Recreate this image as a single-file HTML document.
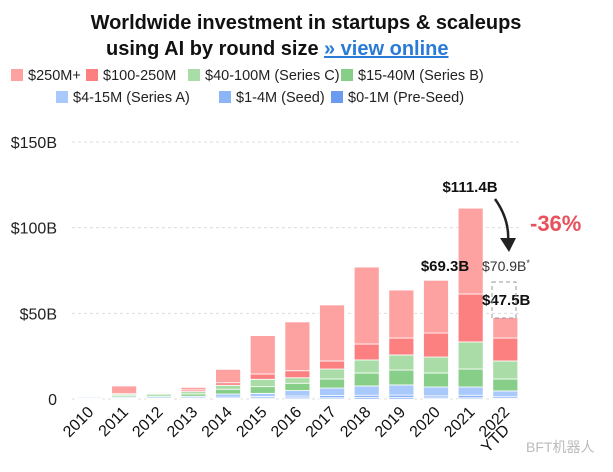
<!DOCTYPE html>
<html><head><meta charset="utf-8"><style>
body{margin:0;background:#fff;font-family:"Liberation Sans","Noto Sans CJK SC",sans-serif;}
#c{position:relative;width:613px;height:472px;overflow:hidden;}
</style></head><body>
<div id="c">
<svg id="s" width="613" height="472">
<text x="306" y="29" text-anchor="middle" font-size="20" font-weight="bold" fill="#111">Worldwide investment in startups &amp; scaleups</text>
<text x="106" y="55" font-size="20" font-weight="bold" fill="#111">using AI by round size</text>
<text x="324" y="55" font-size="20" font-weight="bold" fill="#2a7bd6" text-decoration="underline">» view online</text>
<g id="legend"></g>
<g id="grid"></g><g id="bars"></g><g id="xl"></g>
<text x="470" y="192" text-anchor="middle" font-size="15" font-weight="bold" fill="#111">$111.4B</text>
<text x="445" y="271" text-anchor="middle" font-size="15" font-weight="bold" fill="#111">$69.3B</text>
<text x="482" y="271" font-size="14" fill="#333">$70.9B<tspan font-size="9" dy="-5">*</tspan></text>
<text x="482" y="305" font-size="15" font-weight="bold" fill="#111">$47.5B</text>
<rect x="492" y="282" width="24" height="36" fill="none" stroke="#999" stroke-dasharray="4,3"/>
<text x="530" y="231" font-size="22" font-weight="bold" fill="#e8505b">-36%</text>
<path d="M495,199 Q510,220 508,243" fill="none" stroke="#222" stroke-width="2.5"/>
<polygon points="500,238 516,238 509,252" fill="#222"/>
<text x="526" y="452" font-size="14" fill="#bbb">BFT机器人</text>
</svg></div>
<script>
const years=["2010","2011","2012","2013","2014","2015","2016","2017","2018","2019","2020","2021","2022"];
const preSeed=[0.2,0.2,0.2,0.2,0.4,0.6,0.7,0.7,0.8,0.8,0.6,0.7,0.3];
const seed=[0.3,0.3,0.4,0.4,0.7,0.8,1.0,1.3,1.4,1.5,1.2,1.5,1.0];
const seriesA=[0.6,0.6,0.8,1.0,1.8,1.9,3.2,4.4,5.4,5.9,5.2,4.8,3.4];
const seriesB=[0.4,0.8,1.0,1.4,2.8,3.9,4.3,5.3,7.6,8.7,8.2,10.5,7.0];
const seriesC=[0.3,0.9,0.8,1.3,2.3,4.3,3.2,5.8,7.6,8.8,9.3,15.8,10.5];
const r100=[0.1,0.3,0.2,1.0,1.5,3.1,4.1,4.7,9.3,9.9,14.0,28.0,13.4];
const r250=[0.3,4.5,0.5,1.5,7.8,22.4,28.5,32.7,44.9,28.0,30.8,50.1,11.9];
const yTicks=[0,50,100,150];
const yTickLabels=["0","$50B","$100B","$150B"];
const legendLabels=["$250M+","$100-250M","$40-100M (Series C)","$15-40M (Series B)","$4-15M (Series A)","$1-4M (Seed)","$0-1M (Pre-Seed)"];
const colors=["#6b9bf0","#8db4f7","#a9c8fb","#87cf89","#aadca7","#fd8081","#fda1a1"];
const stacks=[preSeed,seed,seriesA,seriesB,seriesC,r100,r250];
const NS="http://www.w3.org/2000/svg";
const y=v=>399-v*1.7133;
const x=i=>77+i*34.65;
const bw=25;
function mk(t,a,p){const e=document.createElementNS(NS,t);for(const k in a)e.setAttribute(k,a[k]);p.appendChild(e);return e;}
const grid=document.getElementById('grid');
yTicks.forEach((t,i)=>{
 const l=mk('line',{x1:72,x2:522,y1:y(t),y2:y(t),stroke:'#ddd','stroke-dasharray':'3,3'},grid);
 
 
 const tx=mk('text',{x:57,y:y(t)+6,'text-anchor':'end','font-size':16,fill:'#222'},grid);
 tx.textContent=yTickLabels[i];
 
 
});
const bars=document.getElementById('bars');
years.forEach((yr,i)=>{
 let acc=0;
 stacks.forEach((s,k)=>{
  const v=s[i];
  const r=mk('rect',{x:x(i),y:y(acc+v),width:bw,height:Math.max(0,y(acc)-y(acc+v)),fill:colors[k],stroke:'#fff','stroke-width':0.8},bars);
  
  
  acc+=v;
 });
 const g=mk('text',{transform:`translate(${x(i)+bw/2+5},${413}) rotate(-45)`,'text-anchor':'end','font-size':16,fill:'#111'},document.getElementById('xl'));
 g.textContent=yr;
 
 
});
const ytd=mk('text',{transform:`translate(${x(12)+bw/2+5},${431}) rotate(-45)`,'text-anchor':'end','font-size':16,fill:'#111'},document.getElementById('xl'));
ytd.textContent="YTD";


const lg=document.getElementById('legend');
const pos=[[28,1],[103,1],[205,1],[358,1],[73,2],[236,2],[348,2]];
legendLabels.forEach((lab,i)=>{
 const [lx,row]=pos[i];const ly=row==1?80:102;
 const sw=mk('rect',{x:lx-17,y:ly-11,width:12,height:12,fill:colors[6-i]},lg);
 
 
 const t=mk('text',{x:lx,y:ly,'font-size':14.5,fill:'#222'},lg);
 t.textContent=lab;
 
 
});
</script>
</body></html>
